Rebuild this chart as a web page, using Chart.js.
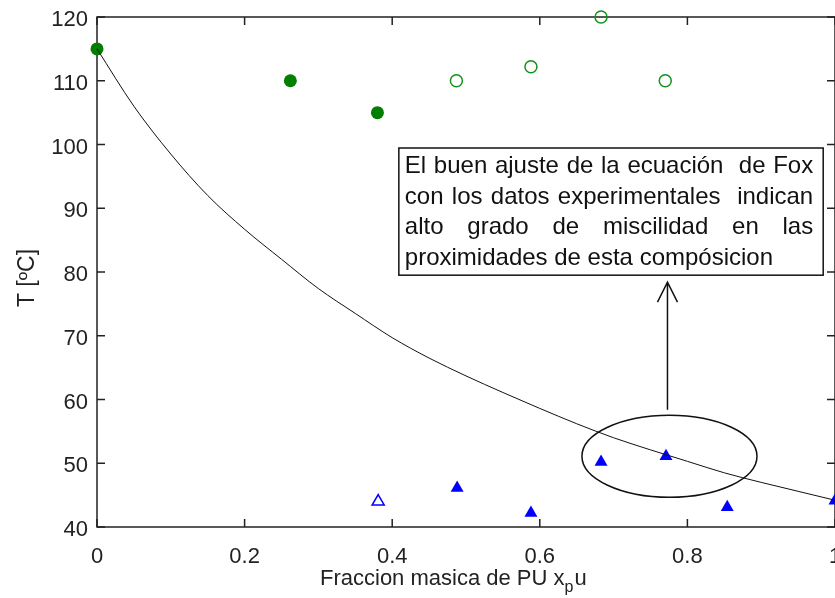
<!DOCTYPE html>
<html>
<head>
<meta charset="utf-8">
<script src="https://cdn.jsdelivr.net/npm/chart.js@4"></script>
<style>
  body { margin: 0; background: #fff; }
</style>
</head>
<body>
<canvas id="foxChart" width="835" height="598"></canvas>
<script>
// Fox equation curve
const fitX = [0, 0.05, 0.1, 0.15, 0.2, 0.25, 0.3, 0.35, 0.4, 0.45, 0.5,
  0.55, 0.6, 0.65, 0.7, 0.75, 0.8, 0.85, 0.9, 0.95, 1];
const fitT = [115, 106, 98.5, 92, 86.7, 82, 77.4, 73.5, 69.7, 66.5, 63.7,
  61.1, 58.6, 56.2, 54, 52.1, 50.3, 48.5, 47, 45.6, 44.2];

// experimental points
const solidCircleX = [0, 0.262, 0.380];
const solidCircleT = [115, 110, 105];
const openCircleX = [0.487, 0.588, 0.683, 0.770];
const openCircleT = [110, 112.2, 120, 110];
const openTriangleX = [0.381];
const openTriangleT = [44];
const solidTriangleX = [0.488, 0.588, 0.683, 0.771, 0.854, 1.0];
const solidTriangleT = [46.1, 42.2, 50.2, 51.1, 43.1, 44.1];

const xTicks = [0, 0.2, 0.4, 0.6, 0.8, 1];
const yTicks = [40, 50, 60, 70, 80, 90, 100, 110, 120];

const xTitle = ["Fraccion masica de PU x", "p", "u"];
const yTitle = "T [ºC]";

const noteLines = [
  "El buen ajuste de la ecuación  de Fox",
  "con los datos experimentales  indican",
  "alto  grado  de  miscilidad  en  las",
  "proximidades de esta compósicion"
];

// annotation shapes, in data units
const ellipse = { x: 0.7757, y: 51.1, rx: 0.1186, ry: 6.43 };
const arrow = { x: 0.773, from: 58.4, to: 78.4 };
const noteBox = { x0: 0.409, x1: 0.984, y0: 99.45, y1: 79.5 };

const toPoints = (xs, ys) => xs.map((x, i) => ({ x: x, y: ys[i] }));

const axisColor = "#222";
const tickFont = { family: "Liberation Sans", size: 22 };

// box + inward ticks on all four sides
const framePlugin = {
  id: "frame",
  beforeDatasetsDraw(chart) {
    const { ctx, chartArea: a, scales: { x, y } } = chart;
    ctx.save();
    ctx.strokeStyle = axisColor;
    ctx.lineWidth = 1.5;
    ctx.strokeRect(a.left, a.top, a.right - a.left, a.bottom - a.top);
    ctx.beginPath();
    xTicks.forEach(v => {
      const px = x.getPixelForValue(v);
      ctx.moveTo(px, a.bottom); ctx.lineTo(px, a.bottom - 8);
      ctx.moveTo(px, a.top); ctx.lineTo(px, a.top + 8);
    });
    yTicks.forEach(v => {
      const py = y.getPixelForValue(v);
      ctx.moveTo(a.left, py); ctx.lineTo(a.left + 8, py);
      ctx.moveTo(a.right, py); ctx.lineTo(a.right - 8, py);
    });
    ctx.stroke();

    // axis titles
    ctx.fillStyle = axisColor;
    ctx.font = '22px "Liberation Sans"';
    ctx.textBaseline = "alphabetic";
    let tx = 320;
    const base = 585;
    ctx.fillText(xTitle[0], tx, base);
    tx += ctx.measureText(xTitle[0]).width;
    ctx.font = '16px "Liberation Sans"';
    ctx.fillText(xTitle[1], tx, base + 7);
    tx += ctx.measureText(xTitle[1]).width + 1;
    ctx.font = '22px "Liberation Sans"';
    ctx.fillText(xTitle[2], tx, base);

    ctx.translate(28, 278);
    ctx.rotate(-Math.PI / 2);
    ctx.textAlign = "center";
    ctx.textBaseline = "middle";
    ctx.font = '23px "Liberation Sans"';
    ctx.fillText(yTitle, 0, 0);
    ctx.restore();
  }
};

// ellipse, arrow and the note box
const notePlugin = {
  id: "note",
  afterDatasetsDraw(chart) {
    const { ctx, scales: { x, y } } = chart;
    ctx.save();
    ctx.strokeStyle = "#111";
    ctx.lineWidth = 1.5;

    const cx = x.getPixelForValue(ellipse.x);
    const cy = y.getPixelForValue(ellipse.y);
    const rx = x.getPixelForValue(ellipse.x + ellipse.rx) - cx;
    const ry = cy - y.getPixelForValue(ellipse.y + ellipse.ry);
    ctx.beginPath();
    ctx.ellipse(cx, cy, rx, ry, 0, 0, Math.PI * 2);
    ctx.stroke();

    const ax = x.getPixelForValue(arrow.x);
    const ay0 = y.getPixelForValue(arrow.from);
    const ay1 = y.getPixelForValue(arrow.to);
    ctx.beginPath();
    ctx.moveTo(ax, ay0); ctx.lineTo(ax, ay1);
    ctx.moveTo(ax - 10, ay1 + 20); ctx.lineTo(ax, ay1); ctx.lineTo(ax + 10, ay1 + 20);
    ctx.stroke();

    const bx0 = x.getPixelForValue(noteBox.x0);
    const bx1 = x.getPixelForValue(noteBox.x1);
    const by0 = y.getPixelForValue(noteBox.y0);
    const by1 = y.getPixelForValue(noteBox.y1);
    ctx.fillStyle = "#fff";
    ctx.fillRect(bx0, by0, bx1 - bx0, by1 - by0);
    ctx.strokeRect(bx0, by0, bx1 - bx0, by1 - by0);

    // justified text, last line left aligned
    ctx.fillStyle = "#111";
    ctx.font = '24px "Liberation Sans"';
    ctx.textBaseline = "alphabetic";
    const left = bx0 + 6, width = bx1 - bx0 - 16;
    const space = ctx.measureText(" ").width;
    noteLines.forEach((line, i) => {
      const yy = by0 + 25 + i * 30.7;
      if (i === noteLines.length - 1) { ctx.fillText(line, left, yy); return; }
      const words = line.split(" ");
      const gaps = words.length - 1;
      const natural = words.reduce((s, w) => s + ctx.measureText(w).width, 0) + gaps * space;
      const extra = (width - natural) / gaps;
      let px = left;
      words.forEach(w => {
        ctx.fillText(w, px, yy);
        px += ctx.measureText(w).width + space + extra;
      });
    });
    ctx.restore();
  }
};

new Chart(document.getElementById("foxChart"), {
  type: "scatter",
  data: {
    datasets: [
      {
        label: "Fox",
        data: toPoints(fitX, fitT),
        showLine: true,
        borderColor: "#111",
        borderWidth: 1,
        pointRadius: 0,
        cubicInterpolationMode: "monotone"
      },
      {
        label: "solid circles",
        data: toPoints(solidCircleX, solidCircleT),
        pointStyle: "circle",
        pointRadius: 6.5,
        backgroundColor: "#007f00",
        borderColor: "#007f00",
        borderWidth: 0
      },
      {
        label: "open circles",
        data: toPoints(openCircleX, openCircleT),
        pointStyle: "circle",
        pointRadius: 6,
        backgroundColor: "rgba(0,0,0,0)",
        borderColor: "#12921a",
        borderWidth: 1.5
      },
      {
        label: "open triangle",
        data: toPoints(openTriangleX, openTriangleT),
        pointStyle: "triangle",
        pointRadius: 7,
        backgroundColor: "rgba(0,0,0,0)",
        borderColor: "#0000ff",
        borderWidth: 1.5
      },
      {
        label: "solid triangles",
        data: toPoints(solidTriangleX, solidTriangleT),
        pointStyle: "triangle",
        pointRadius: 7.5,
        backgroundColor: "#0000ff",
        borderColor: "#0000ff",
        borderWidth: 0
      }
    ]
  },
  options: {
    responsive: false,
    animation: false,
    clip: false,
    layout: { autoPadding: false, padding: { top: 17, right: 0, bottom: 0, left: 0 } },
    plugins: { legend: { display: false }, tooltip: { enabled: false } },
    scales: {
      x: {
        type: "linear",
        min: 0,
        max: 1,
        afterBuildTicks: s => { s.ticks = xTicks.map(v => ({ value: v })); },
        afterFit: s => { s.height = 71; s.paddingLeft = 0; s.paddingRight = 0; },
        grid: { display: false, drawTicks: false },
        border: { display: false },
        ticks: {
          color: axisColor, font: tickFont, padding: 17, maxRotation: 0,
          callback: v => String(+v.toFixed(1))
        }
      },
      y: {
        type: "linear",
        min: 40,
        max: 120,
        afterBuildTicks: s => { s.ticks = yTicks.map(v => ({ value: v })); },
        afterFit: s => { s.width = 97; s.paddingTop = 0; s.paddingBottom = 0; },
        grid: { display: false, drawTicks: false },
        border: { display: false },
        ticks: { color: axisColor, font: tickFont, padding: 9, labelOffset: 3 }
      }
    }
  },
  plugins: [framePlugin, notePlugin]
});
</script>
</body>
</html>
